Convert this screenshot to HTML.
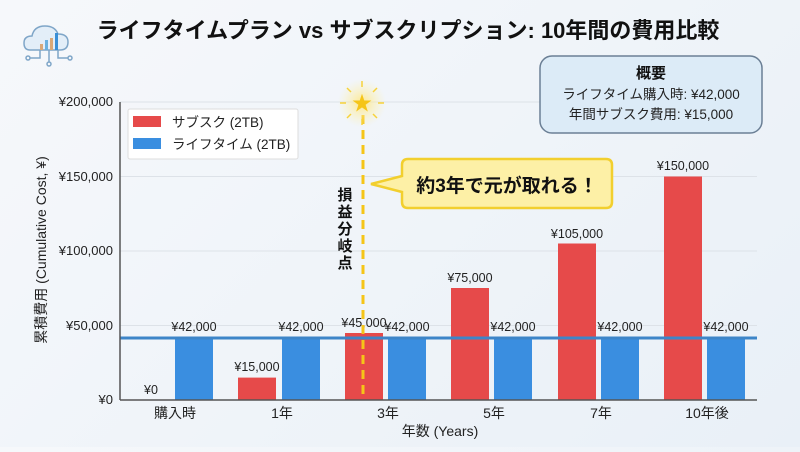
<!DOCTYPE html>
<html><head><meta charset="utf-8"><style>
html,body{margin:0;padding:0;}
body{width:800px;height:447px;overflow:hidden;background:linear-gradient(135deg,#f6f8fb,#e9f0f7);font-family:"Liberation Sans","Noto Sans CJK JP",sans-serif;}
</style></head><body>
<svg width="800" height="447" xmlns="http://www.w3.org/2000/svg" style="font-family:'Liberation Sans','Noto Sans CJK JP',sans-serif">
<defs>
<radialGradient id="glow"><stop offset="0" stop-color="#ffe680" stop-opacity="0.9"/><stop offset="1" stop-color="#fff3b0" stop-opacity="0"/></radialGradient>
</defs>
<g fill="none" stroke="#7fa6c8" stroke-width="1.5">
<path d="M30 50 Q24 50 24 43 Q24 36 32 36 Q34 26 45 26 Q55 26 58 34 Q68 34 68 42 Q68 50 60 50 Z" fill="#e3eef8"/>
<line x1="49" y1="50" x2="49" y2="62"/><circle cx="49" cy="64" r="2"/>
<path d="M40 50 V58 H30"/><circle cx="28" cy="58" r="2"/>
<path d="M58 50 V58 H68"/><circle cx="70" cy="58" r="2"/>
</g>
<rect x="40" y="44" width="3" height="6" fill="#d9a877"/><rect x="45" y="40" width="3" height="10" fill="#6ab0de"/><rect x="50" y="38" width="3" height="12" fill="#d9a877"/><rect x="55" y="33" width="3" height="17" fill="#3a8fd6"/>
<text x="408" y="38" text-anchor="middle" font-size="22" font-weight="bold" fill="#111">ライフタイムプラン vs サブスクリプション: 10年間の費用比較</text>
<g stroke="#dde2e8" stroke-width="1">
<line x1="120" y1="102" x2="757" y2="102"/><line x1="120" y1="176.5" x2="757" y2="176.5"/><line x1="120" y1="251" x2="757" y2="251"/><line x1="120" y1="325.5" x2="757" y2="325.5"/>
</g>
<g font-size="13" fill="#222" text-anchor="end">
<text x="113" y="106">¥200,000</text><text x="113" y="181">¥150,000</text><text x="113" y="255">¥100,000</text><text x="113" y="330">¥50,000</text><text x="113" y="404">¥0</text>
</g>
<text transform="translate(46,250) rotate(-90)" text-anchor="middle" font-size="14" fill="#222">累積費用 (Cumulative Cost, ¥)</text>
<g fill="#e64a4a">
<rect x="238" y="377.6" width="38" height="22.4"/>
<rect x="345" y="333" width="38" height="67"/>
<rect x="451" y="288" width="38" height="112"/>
<rect x="558" y="243.5" width="38" height="156.5"/>
<rect x="664" y="176.5" width="38" height="223.5"/>
</g>
<g fill="#3a8ee0">
<rect x="175" y="337.5" width="38" height="62.5"/>
<rect x="282" y="337.5" width="38" height="62.5"/>
<rect x="388" y="337.5" width="38" height="62.5"/>
<rect x="494" y="337.5" width="38" height="62.5"/>
<rect x="601" y="337.5" width="38" height="62.5"/>
<rect x="707" y="337.5" width="38" height="62.5"/>
</g>
<line x1="120" y1="338" x2="757" y2="338" stroke="#3d85c8" stroke-width="3"/>
<line x1="120" y1="102" x2="120" y2="400" stroke="#555" stroke-width="1.5"/>
<line x1="120" y1="400" x2="757" y2="400" stroke="#555" stroke-width="1.5"/>
<g font-size="12.5" fill="#222" text-anchor="middle">
<text x="151" y="394">¥0</text>
<text x="257" y="371">¥15,000</text>
<text x="364" y="327">¥45,000</text>
<text x="470" y="282">¥75,000</text>
<text x="577" y="238">¥105,000</text>
<text x="683" y="170">¥150,000</text>
<text x="194" y="331">¥42,000</text><text x="301" y="331">¥42,000</text><text x="407" y="331">¥42,000</text><text x="513" y="331">¥42,000</text><text x="620" y="331">¥42,000</text><text x="726" y="331">¥42,000</text>
</g>
<g font-size="14" fill="#222" text-anchor="middle">
<text x="175" y="418">購入時</text><text x="282" y="418">1年</text><text x="388" y="418">3年</text><text x="494" y="418">5年</text><text x="601" y="418">7年</text><text x="707" y="418">10年後</text>
</g>
<text x="440" y="436" text-anchor="middle" font-size="14" fill="#222">年数 (Years)</text>
<rect x="128" y="109" width="170" height="50" fill="#fff" stroke="#ddd" rx="2"/>
<rect x="133" y="116" width="28" height="11" fill="#e64a4a"/><text x="172" y="127" font-size="13.5" fill="#222">サブスク (2TB)</text>
<rect x="133" y="138" width="28" height="11" fill="#3a8ee0"/><text x="172" y="149" font-size="13.5" fill="#222">ライフタイム (2TB)</text>
<line x1="363" y1="115" x2="363" y2="400" stroke="#f5c518" stroke-width="3" stroke-dasharray="9,6"/>
<circle cx="362" cy="103" r="24" fill="url(#glow)"/>
<g stroke="#f7d23a" stroke-width="1.5">
<line x1="362" y1="81" x2="362" y2="87"/><line x1="362" y1="119" x2="362" y2="125"/><line x1="340" y1="103" x2="346" y2="103"/><line x1="378" y1="103" x2="384" y2="103"/>
<line x1="347" y1="88" x2="351" y2="92"/><line x1="373" y1="114" x2="377" y2="118"/><line x1="377" y1="88" x2="373" y2="92"/><line x1="351" y1="114" x2="347" y2="118"/>
</g>
<text x="362" y="110" text-anchor="middle" font-size="20" fill="#f5c518">★</text>
<g font-size="15" font-weight="bold" fill="#111" text-anchor="middle">
<text x="345" y="200">損</text><text x="345" y="217">益</text><text x="345" y="234">分</text><text x="345" y="251">岐</text><text x="345" y="268">点</text>
</g>
<path d="M408 159 H606 Q612 159 612 165 V202 Q612 208 606 208 H408 Q402 208 402 202 V192 L371 184 L402 176 V165 Q402 159 408 159 Z" fill="#fdf0a6" stroke="#f2cf2e" stroke-width="2.5"/>
<text x="507" y="192" text-anchor="middle" font-size="19" font-weight="bold" fill="#111">約3年で元が取れる！</text>
<rect x="540" y="56" width="222" height="77" rx="12" fill="#dcebf7" stroke="#6b7f95" stroke-width="1.5"/>
<text x="651" y="78" text-anchor="middle" font-size="15" font-weight="bold" fill="#111">概要</text>
<text x="651" y="99" text-anchor="middle" font-size="13.5" fill="#222">ライフタイム購入時: ¥42,000</text>
<text x="651" y="119" text-anchor="middle" font-size="13.5" fill="#222">年間サブスク費用: ¥15,000</text>
</svg>
</body></html>
